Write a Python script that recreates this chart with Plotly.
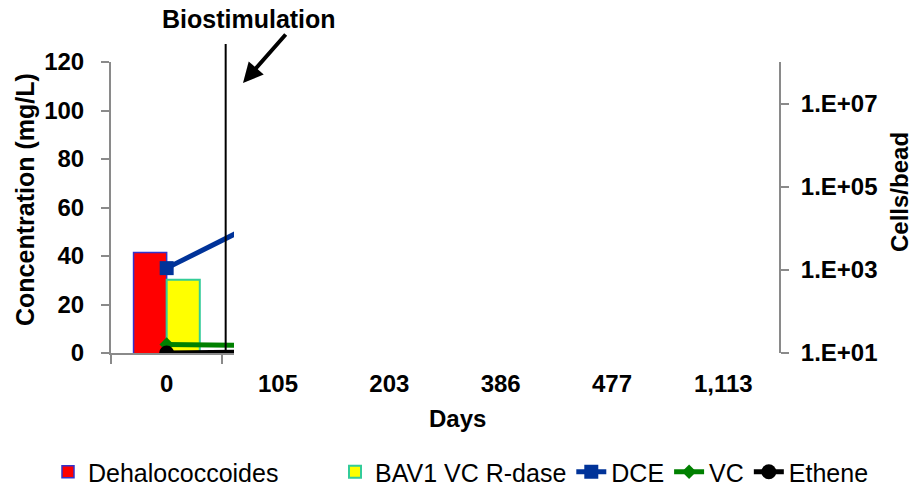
import plotly.graph_objects as go

# ---- data ----
days = ["0", "105", "203", "386", "477", "1,113"]
cat_pos = [0, 1, 2, 3, 4, 5]

# cells/bead (right, log axis) - only day 0 visible
dhc_cells = [2600]
bav1_cells = [575]

# concentrations (mg/L) - only first segment visible in the picture
dce = [35, 58]
vc = [3.5, 3.0]
ethene = [0.0, 0.5]

biostim_x = 0.53  # event position (category units)

FONT = "Liberation Sans, Arial, sans-serif"
GREY = "#8a8a8a"

# page geometry (body margin removed via post_script)
W, H = 912, 489
PL, PR, PT, PB = 111, 779, 62, 353      # plot area in page pixels
pw, ph = PR - PL, PB - PT
L, T = PL, PT
R = W - L - pw
B = H - T - ph


def px(x):
    return (x - PL) / pw


def py(y):
    return (PB - y) / ph


unit = pw / 6.0
clip_px = 234 - PL
x2_end = -0.5 + clip_px / unit

fig = go.Figure()

fig.add_trace(go.Bar(
    x=cat_pos[:1], y=dhc_cells, name="Dehalococcoides",
    marker=dict(color="#ff0000", line=dict(color="#3333cc", width=1.5)),
    xaxis="x", yaxis="y2", legend="legend"))
fig.add_trace(go.Bar(
    x=cat_pos[:1], y=bav1_cells, name="BAV1 VC R-dase",
    marker=dict(color="#ffff00", line=dict(color="#33cc99", width=2)),
    xaxis="x", yaxis="y2", legend="legend2"))

fig.add_trace(go.Scatter(
    x=cat_pos[:2], y=dce, name="DCE", mode="lines+markers",
    line=dict(color="#003399", width=5),
    marker=dict(symbol="square", size=14, color="#003399"),
    xaxis="x2", yaxis="y", legend="legend2"))
fig.add_trace(go.Scatter(
    x=cat_pos[:2], y=vc, name="VC", mode="lines+markers",
    line=dict(color="#008000", width=5),
    marker=dict(symbol="diamond", size=11, color="#008000"),
    xaxis="x2", yaxis="y", legend="legend2"))
fig.add_trace(go.Scatter(
    x=cat_pos[:2], y=ethene, name="Ethene", mode="lines+markers",
    line=dict(color="#000000", width=5),
    marker=dict(symbol="circle", size=15, color="#000000"),
    xaxis="x2", yaxis="y", legend="legend2"))

leg_common = dict(orientation="h", xanchor="left", yanchor="middle",
                  y=py(472), font=dict(size=25, family=FONT),
                  itemwidth=30, tracegroupgap=0, itemclick=False,
                  bgcolor="rgba(0,0,0,0)")

fig.update_layout(
    width=W, height=H,
    margin=dict(l=L, r=R, t=T, b=B, pad=0, autoexpand=False),
    paper_bgcolor="white", plot_bgcolor="rgba(0,0,0,0)",
    font=dict(family=FONT, size=22, color="black"),
    barmode="group", bargap=0.405, bargroupgap=0,
    showlegend=True,
    legend=dict(x=px(48), **leg_common),
    legend2=dict(x=px(335), **leg_common),
    xaxis=dict(range=[-0.5, 5.5], tickvals=cat_pos, ticktext=days,
               showline=False, ticks="", showgrid=False, zeroline=False,
               tickfont=dict(size=24, family=FONT, weight="bold"),
               ticklabelstandoff=14, fixedrange=True),
    xaxis2=dict(domain=[0, clip_px / pw], range=[-0.5, x2_end], anchor="y",
                showline=True, linecolor=GREY, linewidth=2,
                ticks="outside", ticklen=9, tickcolor=GREY, tickwidth=2,
                tickvals=[-0.5, 0.5], showticklabels=False,
                showgrid=False, zeroline=False),
    yaxis=dict(range=[0, 120], dtick=20, showline=True, linecolor=GREY, linewidth=2,
               ticks="outside", ticklen=8, tickcolor=GREY, tickwidth=2,
               showgrid=False, zeroline=False,
               tickfont=dict(size=24, family=FONT, weight="bold"),
               ticklabelstandoff=12),
    yaxis2=dict(type="log", range=[1, 8], overlaying="y", side="right", anchor="x",
                tickvals=[1e1, 1e3, 1e5, 1e7],
                ticktext=["1.E+01", "1.E+03", "1.E+05", "1.E+07"],
                showline=True, linecolor=GREY, linewidth=2,
                ticks="outside", ticklen=8, tickcolor=GREY, tickwidth=2,
                showgrid=False, zeroline=False,
                tickfont=dict(size=24, family=FONT, weight="bold"),
                ticklabelstandoff=7),
)

# Biostimulation marker line
fig.add_shape(type="line", xref="x", yref="paper",
              x0=biostim_x, x1=biostim_x, y0=0, y1=py(44),
              line=dict(color="black", width=2))

# Arrow
fig.add_annotation(xref="paper", yref="paper",
                   x=px(243), y=py(83),
                   ax=44, ay=-50, text="", showarrow=True,
                   arrowhead=2, arrowsize=1, arrowwidth=4, arrowcolor="black")
fig.add_annotation(xref="paper", yref="paper",
                   x=px(249), y=py(19),
                   text="Biostimulation", showarrow=False,
                   font=dict(size=25, family=FONT, weight="bold"),
                   xanchor="center", yanchor="middle")

# Axis titles
fig.add_annotation(xref="paper", yref="paper",
                   x=px(457), y=py(418),
                   text="Days", showarrow=False,
                   font=dict(size=24, family=FONT, weight="bold"),
                   xanchor="center", yanchor="middle")
fig.add_annotation(xref="paper", yref="paper",
                   x=px(25), y=py(200),
                   text="Concentration (mg/L)", textangle=-90, showarrow=False,
                   font=dict(size=25, family=FONT, weight="bold"),
                   xanchor="center", yanchor="middle")
fig.add_annotation(xref="paper", yref="paper",
                   x=px(899), y=py(192),
                   text="Cells/bead", textangle=-90, showarrow=False,
                   font=dict(size=24, family=FONT, weight="bold"),
                   xanchor="center", yanchor="middle")

fig.write_html("out.html", config={"displayModeBar": False},
               post_script="document.body.style.margin='0';document.body.style.overflow='hidden';")
